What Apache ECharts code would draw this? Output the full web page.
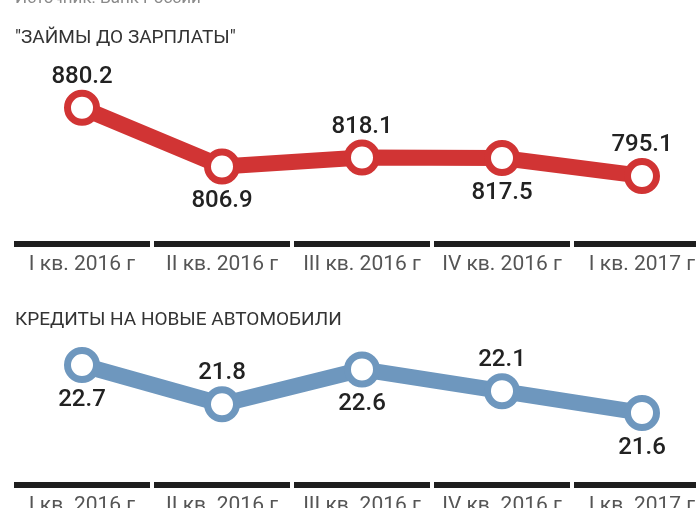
<!DOCTYPE html>
<html>
<head>
<meta charset="utf-8">
<script src="https://cdn.jsdelivr.net/npm/echarts@6/dist/echarts.min.js"></script>
<style>
  html, body { margin: 0; padding: 0; background: #fff; }
  #chart { width: 696px; height: 508px; }
</style>
</head>
<body>
<div id="chart"></div>
<script>
// кварталы
const quarters = ['I кв. 2016 г', 'II кв. 2016 г', 'III кв. 2016 г', 'IV кв. 2016 г', 'I кв. 2017 г']
// "Займы до зарплаты"
const paydayLoans = [880.2, 806.9, 818.1, 817.5, 795.1]
// Кредиты на новые автомобили
const carLoans = [22.7, 21.8, 22.6, 22.1, 21.6]

const RED = '#d13434'
const BLUE = '#6e97be'
const FONT = 'Roboto, "Noto Sans", sans-serif'

// подписи чередуются сверху/снизу
function withLabels(values, firstSide) {
  const other = firstSide === 'top' ? 'bottom' : 'top'
  return values.map((v, i) => {
    const side = i % 2 === 0 ? firstSide : other
    return {
      value: v,
      label: { position: side, distance: side === 'top' ? 1 : 5 }
    }
  })
}

function xAxisFor(gridIndex, offset) {
  return {
    type: 'category',
    gridIndex,
    data: quarters,
    offset,
    axisLine: {
      show: true,
      // отрезки под каждым кварталом с небольшим разрывом
      lineStyle: {
        color: '#1e1e1e', width: 6, cap: 'butt',
        type: [136, 4], dashOffset: 138
      }
    },
    axisTick: { show: false },
    axisLabel: {
      interval: 0,
      margin: 10,
      color: '#555',
      fontSize: 21,
      fontFamily: FONT
    }
  }
}

function lineSeries(values, color, axisIndex, firstSide) {
  return {
    type: 'line',
    xAxisIndex: axisIndex,
    yAxisIndex: axisIndex,
    data: withLabels(values, firstSide),
    symbol: 'circle',
    symbolSize: 29,
    lineStyle: { color, width: 16 },
    itemStyle: { color: '#fff', borderColor: color, borderWidth: 7 },
    label: {
      show: true,
      fontSize: 24,
      fontWeight: 500,
      fontFamily: FONT,
      color: '#222',
      formatter: p => p.value.toFixed(1)
    },
    emphasis: { disabled: true }
  }
}

const chart = echarts.init(document.getElementById('chart'))
chart.setOption({
  animation: false,
  title: [
    {
      text: 'Источник: Банк России',
      left: 15, top: -10, padding: 0,
      textStyle: { fontSize: 17, fontWeight: 'normal', color: '#8a8a8a', fontFamily: FONT }
    },
    {
      text: '"ЗАЙМЫ ДО ЗАРПЛАТЫ"',
      left: 15, top: 29, padding: 0,
      textStyle: { fontSize: 19, fontWeight: 'normal', color: '#333', fontFamily: FONT }
    },
    {
      text: 'КРЕДИТЫ НА НОВЫЕ АВТОМОБИЛИ',
      left: 15, top: 311, padding: 0,
      textStyle: { fontSize: 19, fontWeight: 'normal', color: '#333', fontFamily: FONT }
    }
  ],
  grid: [
    { left: 12, width: 700, top: 92, height: 112, outerBoundsMode: 'none' },
    { left: 12, width: 700, top: 352, height: 87, outerBoundsMode: 'none' }
  ],
  xAxis: [xAxisFor(0, 40), xAxisFor(1, 46)],
  yAxis: [
    { type: 'value', gridIndex: 0, min: 760, max: 900, show: false },
    { type: 'value', gridIndex: 1, min: 21, max: 23, show: false }
  ],
  series: [
    lineSeries(paydayLoans, RED, 0, 'top'),
    lineSeries(carLoans, BLUE, 1, 'bottom')
  ]
})
</script>
</body>
</html>
